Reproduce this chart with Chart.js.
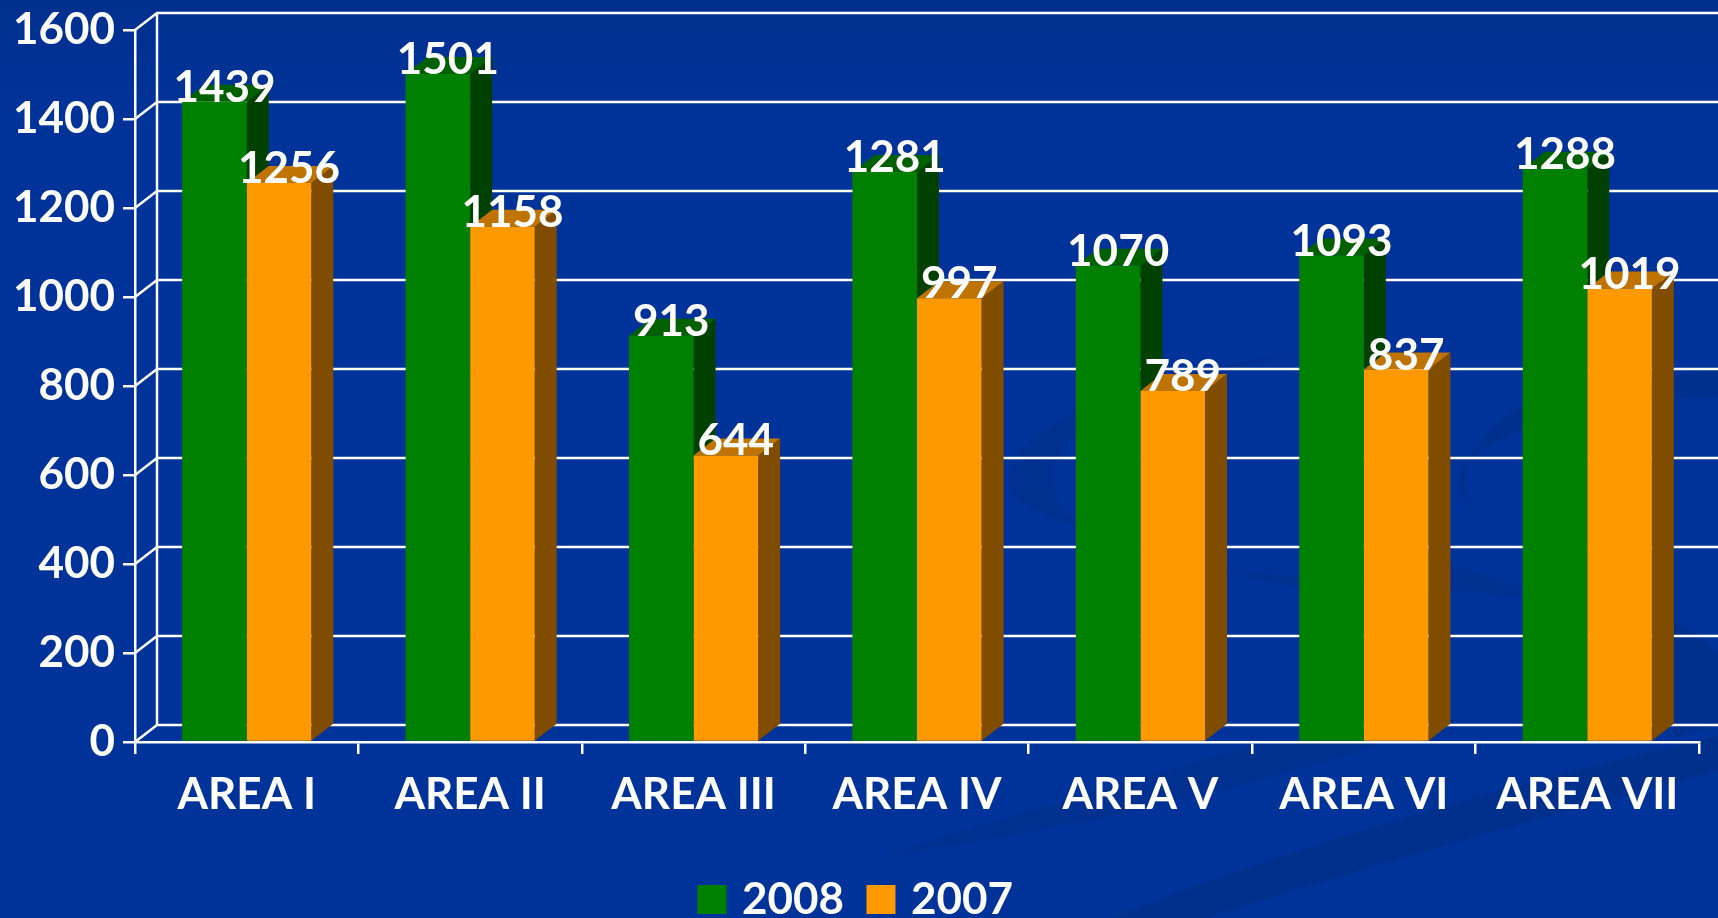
<!DOCTYPE html>
<html>
<head>
<meta charset="utf-8">
<title>Area chart</title>
<script src="https://cdn.jsdelivr.net/npm/chart.js@4"></script>
<style>
html, body { margin: 0; padding: 0; background: #003399; overflow: hidden; }
#chartArea { display: block; }
</style>
</head>
<body>
<canvas id="chartArea" width="1718" height="918"></canvas>
<script>
const categories = ['AREA I', 'AREA II', 'AREA III', 'AREA IV', 'AREA V', 'AREA VI', 'AREA VII'];
const values2008 = [1439, 1501, 913, 1281, 1070, 1093, 1288];
const values2007 = [1256, 1158, 644, 997, 789, 837, 1019];
const yTicks = [0, 200, 400, 600, 800, 1000, 1200, 1400, 1600];

const FONT = { family: 'Lato', weight: 'bold', size: 44 };
const DEPTH = { x: 22, y: -17 };
const LINE_WIDTH = 2.5;
const FACES = [
    { front: '#008000', top: '#006000', side: '#004000' },
    { front: '#ff9900', top: '#bf7300', side: '#804d00' }
];

function band(ctx, color, draw) {
    ctx.fillStyle = color;
    ctx.beginPath();
    draw();
    ctx.closePath();
    ctx.fill();
}

// wallpaper swooshes behind the chart
const backdrop = {
    id: 'backdrop',
    beforeDraw(chart) {
        const { ctx, width, height } = chart;
        ctx.save();
        ctx.fillStyle = '#003399';
        ctx.fillRect(0, 0, width, height);
        const g = ctx.createLinearGradient(0, 0, 0, 120);
        g.addColorStop(0, '#00308e');
        g.addColorStop(1, 'rgba(0,48,142,0)');
        ctx.fillStyle = g;
        ctx.fillRect(0, 0, width, 120);

        ctx.translate(950, 320);
        ctx.scale(1 / 2.04, 1 / 2.62);
        band(ctx, '#003190', () => {
            ctx.moveTo(120, 420);
            ctx.bezierCurveTo(130, 280, 330, 150, 720, 85);
            ctx.bezierCurveTo(420, 170, 200, 280, 210, 410);
            ctx.bezierCurveTo(215, 470, 240, 510, 262, 540);
            ctx.bezierCurveTo(180, 510, 120, 470, 120, 420);
        });
        band(ctx, '#00308d', () => {
            ctx.moveTo(1085, 515);
            ctx.bezierCurveTo(1030, 470, 1020, 340, 1180, 210);
            ctx.bezierCurveTo(1300, 170, 1450, 150, 1568, 130);
            ctx.lineTo(1568, 200);
            ctx.bezierCurveTo(1400, 200, 1040, 280, 1040, 420);
            ctx.bezierCurveTo(1040, 460, 1060, 495, 1085, 515);
        });
        band(ctx, '#003191', () => {
            ctx.moveTo(560, 655);
            ctx.lineTo(1170, 725);
            ctx.lineTo(1170, 700);
            ctx.lineTo(1020, 640);
            ctx.lineTo(720, 705);
        });
        band(ctx, '#00308d', () => {
            ctx.moveTo(1476, 795);
            ctx.bezierCurveTo(1520, 820, 1568, 860, 1568, 880);
            ctx.lineTo(1568, 1060);
            ctx.lineTo(1476, 1095);
        });
        band(ctx, '#003191', () => {
            ctx.moveTo(-130, 1400);
            ctx.quadraticCurveTo(400, 1310, 887, 1108);
            ctx.lineTo(639, 1108);
            ctx.quadraticCurveTo(300, 1230, -130, 1400);
        });
        band(ctx, '#00308c', () => {
            ctx.moveTo(330, 1568);
            ctx.quadraticCurveTo(800, 1320, 1568, 1090);
            ctx.lineTo(1568, 1180);
            ctx.quadraticCurveTo(1000, 1370, 520, 1568);
        });
        ctx.restore();
    }
};

// back wall of the fake 3D box
const wall = {
    id: 'wall',
    beforeDatasetsDraw(chart) {
        const { ctx, chartArea, scales } = chart;
        ctx.save();
        ctx.strokeStyle = '#ffffff';
        ctx.lineWidth = LINE_WIDTH;
        const left = chartArea.left, right = chartArea.right;
        ctx.beginPath();
        yTicks.forEach(v => {
            const y = scales.y.getPixelForValue(v);
            ctx.moveTo(left, y);
            ctx.lineTo(left + DEPTH.x, y + DEPTH.y);
            ctx.lineTo(right + DEPTH.x, y + DEPTH.y);
        });
        ctx.moveTo(left + DEPTH.x, chartArea.top + DEPTH.y);
        ctx.lineTo(left + DEPTH.x, chartArea.bottom + DEPTH.y);
        ctx.stroke();
        ctx.restore();
    }
};

// side and top faces of each bar, drawn before the library paints the fronts
const barFaces = {
    id: 'barFaces',
    beforeDatasetsDraw(chart) {
        const { ctx } = chart;
        ctx.save();
        categories.forEach((c, i) => {
            [0, 1].forEach(d => {
                const bar = chart.getDatasetMeta(d).data[i];
                const l = bar.x - bar.width / 2, r = bar.x + bar.width / 2;
                ctx.fillStyle = FACES[d].side;
                ctx.beginPath();
                ctx.moveTo(r, bar.y);
                ctx.lineTo(r + DEPTH.x, bar.y + DEPTH.y);
                ctx.lineTo(r + DEPTH.x, bar.base + DEPTH.y);
                ctx.lineTo(r, bar.base);
                ctx.closePath();
                ctx.fill();
                ctx.fillStyle = FACES[d].top;
                ctx.beginPath();
                ctx.moveTo(l, bar.y);
                ctx.lineTo(l + DEPTH.x, bar.y + DEPTH.y);
                ctx.lineTo(r + DEPTH.x, bar.y + DEPTH.y);
                ctx.lineTo(r, bar.y);
                ctx.closePath();
                ctx.fill();
            });
        });
        ctx.restore();
    }
};

const valueLabels = {
    id: 'valueLabels',
    afterDatasetsDraw(chart) {
        const { ctx } = chart;
        ctx.save();
        ctx.fillStyle = '#ffffff';
        ctx.font = `${FONT.weight} ${FONT.size}px ${FONT.family}`;
        ctx.textAlign = 'center';
        ctx.textBaseline = 'alphabetic';
        chart.data.datasets.forEach((ds, d) => {
            chart.getDatasetMeta(d).data.forEach((bar, i) => {
                ctx.fillText(ds.data[i], bar.x + 10, bar.y);
            });
        });
        ctx.restore();
    }
};

// the legend sits lower and further right than the layout would put it
const legendNudge = {
    id: 'legendNudge',
    afterLayout(chart) {
        chart.legend.top = 848.5;
        chart.legend.left += 9;
        chart.legend.right += 9;
    }
};

new Chart(document.getElementById('chartArea'), {
    type: 'bar',
    data: {
        labels: categories,
        datasets: [
            { label: '2008', data: values2008, backgroundColor: FACES[0].front },
            { label: '2007', data: values2007, backgroundColor: FACES[1].front }
        ]
    },
    plugins: [backdrop, wall, barFaces, valueLabels, legendNudge],
    options: {
        responsive: false,
        animation: false,
        categoryPercentage: 0.578,
        barPercentage: 1,
        layout: { padding: { top: 27, right: 19, left: 0, bottom: 0 } },
        plugins: {
            tooltip: { enabled: false },
            legend: {
                position: 'bottom',
                labels: {
                    color: '#ffffff',
                    font: FONT,
                    usePointStyle: true,
                    pointStyle: 'rect',
                    boxWidth: 16,
                    boxHeight: 29,
                    padding: 29
                }
            }
        },
        scales: {
            x: {
                grid: { color: '#ffffff', lineWidth: LINE_WIDTH, drawOnChartArea: false, drawTicks: true, tickLength: 12 },
                border: { color: '#ffffff', width: LINE_WIDTH },
                ticks: { color: '#ffffff', font: FONT, padding: 14, maxRotation: 0 },
                afterFit(scale) { scale.height = 93; }
            },
            y: {
                min: 0,
                max: 1600,
                grid: { color: '#ffffff', lineWidth: LINE_WIDTH, drawOnChartArea: false, drawTicks: true, tickLength: 12 },
                border: { color: '#ffffff', width: LINE_WIDTH },
                ticks: { color: '#ffffff', font: { ...FONT, lineHeight: 1 }, stepSize: 200, padding: 8, callback: v => String(v) },
                afterFit(scale) { scale.width = 135; }
            }
        }
    }
});
</script>
</body>
</html>
